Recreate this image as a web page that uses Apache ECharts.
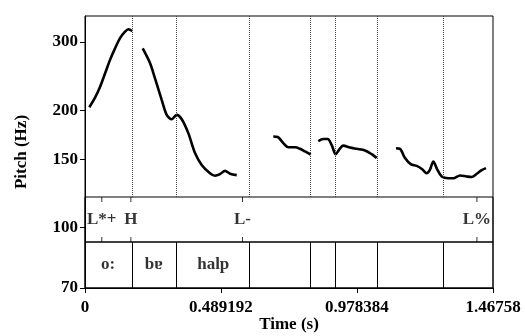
<!DOCTYPE html>
<html><head><meta charset="utf-8">
<script src="https://cdn.jsdelivr.net/npm/echarts@6/dist/echarts.min.js"></script>
<style>html,body{margin:0;padding:0;background:#fff}#c{width:525px;height:336px}</style>
</head><body><div id="c"></div>
<script>
const xMax = 1.46758;
const xTickValues = [0, 0.489192, 0.978384, 1.46758];
const xTickLabels = ['0', '0.489192', '0.978384', '1.46758'];
const yTickValues = [70, 100, 150, 200, 300];
const yMin = 70, yMax = 350;

// pitch contour segments: [time (s), pitch (Hz)]
const seg1 = [[0.0155,204],[0.036,216],[0.054,230],[0.072,249],[0.090,270],[0.108,289],[0.126,307],[0.144,319],[0.156,323.5],[0.164,322],[0.170,320]];
const seg2 = [[0.2076,289],[0.2338,265],[0.2518,242],[0.2759,213],[0.2939,195],[0.3119,190],[0.3299,195],[0.348,190],[0.3716,175],[0.3957,155.5],[0.4198,145],[0.4496,138],[0.4676,136],[0.4856,137.3],[0.5036,140],[0.5216,137.7],[0.5457,136.5]];
const seg3 = [[0.6773,171.5],[0.6932,171],[0.7133,165],[0.7313,161],[0.7554,161],[0.7734,159.5],[0.7914,157],[0.8119,154]];
const seg4 = [[0.8392,167],[0.8572,169],[0.873,169],[0.8874,163],[0.9018,154.5],[0.9137,158.5],[0.9291,162.5],[0.9532,160.7],[0.9773,159.5],[1.0072,158],[1.0313,154.5],[1.0493,151]];
const seg5 = [[1.1187,160],[1.1331,159.5],[1.1511,151],[1.1716,145.7],[1.1932,144.2],[1.2129,141.4],[1.2291,138],[1.241,141],[1.2529,148],[1.2673,141],[1.2831,135.4],[1.3068,134],[1.3248,134],[1.3489,136.2],[1.373,135.4],[1.391,135],[1.409,137.6],[1.427,140.6],[1.4424,142.3]];

// word tier
const wordBounds = [0.1655, 0.3284, 0.5942, 0.8094, 0.9018, 1.0457, 1.2867];
const wordLabels = ['o:', 'bɐ', 'halp', '', '', '', '', ''];
// tone tier
const toneTimes = [0.0604, 0.165, 0.5665, 1.4097];
const toneLabels = ['L*+', 'H', 'L-', 'L%'];

const FONT = 'Liberation Serif';
const txt = {fontFamily: FONT, fontWeight: 'bold', fontSize: 17, color: '#000'};

const edges = [0].concat(wordBounds, [xMax]);
const wordData = wordLabels.map((l, i) => ({name: l, value: [(edges[i] + edges[i + 1]) / 2, 0.5]})).filter(d => d.name);
const toneData = toneLabels.map((l, i) => ({name: l, value: [toneTimes[i], 0.5]}));

function fmtX(v) {
  let best = 0;
  xTickValues.forEach((t, i) => { if (Math.abs(t - v) < Math.abs(xTickValues[best] - v)) best = i; });
  return xTickLabels[best];
}

const hidX = i => ({gridIndex: i, type: 'value', min: 0, max: xMax, show: false});
const hidY = i => ({gridIndex: i, type: 'value', min: 0, max: 1, show: false});

const pitchLine = d => ({
  type: 'line', xAxisIndex: 0, yAxisIndex: 0, data: d, showSymbol: false, smooth: 0.3,
  lineStyle: {color: '#000', width: 2.6}, silent: true
});

const gridBase = {left: 85, right: 32, outerBoundsMode: 'none', containLabel: false};

const chart = echarts.init(document.getElementById('c'), null, {renderer: 'canvas'});
chart.setOption({
  animation: false,
  backgroundColor: '#fff',
  grid: [
    Object.assign({top: 16, bottom: 48, show: true, borderColor: '#000', borderWidth: 1, backgroundColor: 'transparent'}, gridBase),
    Object.assign({top: 16, height: 181, show: false}, gridBase),
    Object.assign({top: 197, height: 45, show: true, borderColor: '#000', borderWidth: 1, backgroundColor: 'transparent'}, gridBase),
    Object.assign({top: 242, height: 46, show: true, borderColor: '#000', borderWidth: 1, backgroundColor: 'transparent'}, gridBase)
  ],
  xAxis: [
    {gridIndex: 0, type: 'value', min: 0, max: xMax,
     name: 'Time (s)', nameLocation: 'middle', nameGap: 28, nameMoveOverlap: false, nameTextStyle: txt,
     axisLine: {show: true, onZero: false, lineStyle: {color: '#000', width: 1}},
     axisTick: {show: true, length: 5, customValues: xTickValues, lineStyle: {color: '#000'}},
     axisLabel: Object.assign({customValues: xTickValues, margin: 11, formatter: fmtX}, txt),
     splitLine: {show: false}},
    hidX(1), hidX(2), hidX(3)
  ],
  yAxis: [
    {gridIndex: 0, type: 'log', logBase: 10, min: yMin, max: yMax,
     name: 'Pitch (Hz)', nameLocation: 'middle', nameGap: 55, nameMoveOverlap: false, nameRotate: 90, nameTextStyle: txt,
     axisLine: {show: true, onZero: false, lineStyle: {color: '#000', width: 1}},
     axisTick: {show: true, length: 5, customValues: yTickValues, lineStyle: {color: '#000'}},
     minorTick: {show: false},
     axisLabel: Object.assign({customValues: yTickValues, margin: 7, formatter: v => String(Math.round(v))}, txt),
     splitLine: {show: false}},
    hidY(1), hidY(2), hidY(3)
  ],
  series: [
    pitchLine(seg1), pitchLine(seg2), pitchLine(seg3), pitchLine(seg4), pitchLine(seg5),
    {type: 'line', xAxisIndex: 1, yAxisIndex: 1, data: [], silent: true,
     markLine: {symbol: 'none', silent: true, label: {show: false},
       lineStyle: {type: [1, 1], color: '#444', width: 1},
       data: wordBounds.map(t => ({xAxis: t}))}},
    {type: 'line', xAxisIndex: 3, yAxisIndex: 3, data: [], silent: true,
     markLine: {symbol: 'none', silent: true, label: {show: false},
       lineStyle: {type: 'solid', color: '#000', width: 1},
       data: wordBounds.map(t => ({xAxis: t}))}},
    {type: 'scatter', xAxisIndex: 3, yAxisIndex: 3, data: wordData, symbolSize: 1, silent: true,
     itemStyle: {color: 'rgba(0,0,0,0)'},
     label: Object.assign({show: true, position: 'inside', formatter: p => p.name}, txt)},
    {type: 'scatter', xAxisIndex: 2, yAxisIndex: 2, data: toneData, symbolSize: 1, silent: true,
     itemStyle: {color: 'rgba(0,0,0,0)'},
     label: Object.assign({show: true, position: 'inside', formatter: p => p.name}, txt)},
    {type: 'scatter', xAxisIndex: 2, yAxisIndex: 2, silent: true,
     data: toneTimes.map(t => [t, 1]), symbol: 'rect', symbolSize: [1, 5], symbolOffset: [0, 2.5],
     itemStyle: {color: '#000'}},
    {type: 'scatter', xAxisIndex: 2, yAxisIndex: 2, silent: true,
     data: toneTimes.map(t => [t, 0]), symbol: 'rect', symbolSize: [1, 5], symbolOffset: [0, -2.5],
     itemStyle: {color: '#000'}}
  ]
});
</script>
</body></html>
